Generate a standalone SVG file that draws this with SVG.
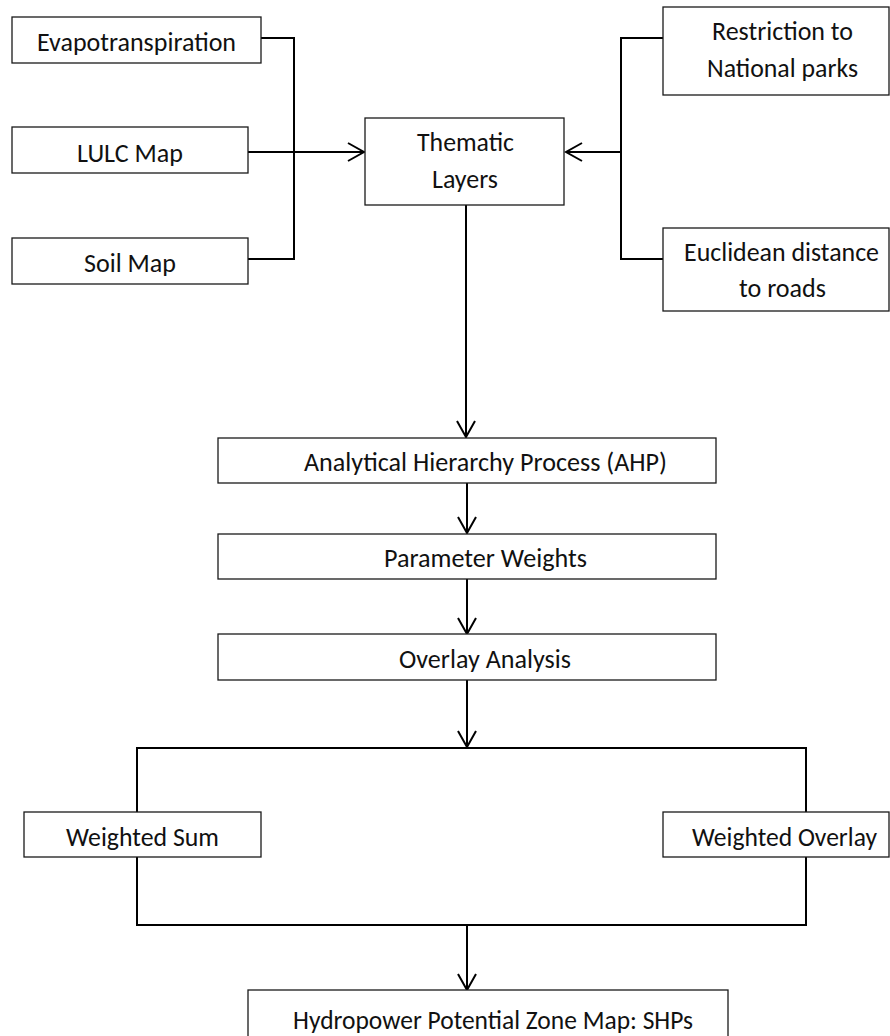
<svg xmlns="http://www.w3.org/2000/svg" width="890" height="1036" viewBox="0 0 890 1036">
<style>
.box{fill:#fff;stroke:#1a1a1a;stroke-width:1.3}
.t{font-family:Carlito,Lato,"Liberation Sans",sans-serif;font-size:26px;fill:#111;text-anchor:middle}
.c{fill:none;stroke:#000;stroke-width:2}
</style>
<defs>
<marker id="arr" viewBox="0 0 20 20" refX="18" refY="10" markerWidth="20" markerHeight="20" markerUnits="userSpaceOnUse" orient="auto">
<path d="M2,1 L18,10 L2,19" fill="none" stroke="#000" stroke-width="2"/>
</marker>
</defs>
<rect width="890" height="1036" fill="#fff"/>
<g id="connectors">
<polyline class="c" points="261,38 294,38 294,259 248,259"/>
<line class="c" x1="248" y1="152" x2="364" y2="152" marker-end="url(#arr)"/>
<polyline class="c" points="663,38 621,38 621,259 663,259"/>
<line class="c" x1="621" y1="152" x2="566" y2="152" marker-end="url(#arr)"/>
<line class="c" x1="466" y1="205" x2="466" y2="437" marker-end="url(#arr)"/>
<line class="c" x1="467" y1="483" x2="467" y2="533" marker-end="url(#arr)"/>
<line class="c" x1="467" y1="579" x2="467" y2="634" marker-end="url(#arr)"/>
<line class="c" x1="467" y1="680" x2="467" y2="747" marker-end="url(#arr)"/>
<polyline class="c" points="137,812 137,748 806,748 806,812"/>
<polyline class="c" points="137,857 137,925 806,925 806,857"/>
<line class="c" x1="467" y1="925" x2="467" y2="990" marker-end="url(#arr)"/>
</g>
<g id="evap"><rect class="box" x="12" y="17" width="249" height="46"/><text class="t" x="136.5" y="51" textLength="199" lengthAdjust="spacingAndGlyphs">Evapotranspiration</text></g>
<g id="lulc"><rect class="box" x="12" y="127" width="236" height="46"/><text class="t" x="130" y="162" textLength="106" lengthAdjust="spacingAndGlyphs">LULC Map</text></g>
<g id="soil"><rect class="box" x="12" y="238" width="236" height="46"/><text class="t" x="130" y="272" textLength="92" lengthAdjust="spacingAndGlyphs">Soil Map</text></g>
<g id="thematic"><rect class="box" x="365" y="118" width="199" height="87"/><text class="t" x="465.5" y="151" textLength="97" lengthAdjust="spacingAndGlyphs">Thematic</text><text class="t" x="465" y="188" textLength="66" lengthAdjust="spacingAndGlyphs">Layers</text></g>
<g id="restriction"><rect class="box" x="663" y="7" width="226" height="88"/><text class="t" x="782.5" y="40" textLength="141" lengthAdjust="spacingAndGlyphs">Restriction to</text><text class="t" x="782.5" y="77" textLength="151" lengthAdjust="spacingAndGlyphs">National parks</text></g>
<g id="euclid"><rect class="box" x="663" y="228" width="226" height="83"/><text class="t" x="781.5" y="261" textLength="195" lengthAdjust="spacingAndGlyphs">Euclidean distance</text><text class="t" x="782.5" y="297" textLength="87" lengthAdjust="spacingAndGlyphs">to roads</text></g>
<g id="ahp"><rect class="box" x="218" y="438" width="498" height="45"/><text class="t" x="485.5" y="471" textLength="363" lengthAdjust="spacingAndGlyphs">Analytical Hierarchy Process (AHP)</text></g>
<g id="weights"><rect class="box" x="218" y="534" width="498" height="45"/><text class="t" x="485.5" y="567" textLength="203" lengthAdjust="spacingAndGlyphs">Parameter Weights</text></g>
<g id="overlay"><rect class="box" x="218" y="634" width="498" height="46"/><text class="t" x="485" y="668" textLength="172" lengthAdjust="spacingAndGlyphs">Overlay Analysis</text></g>
<g id="wsum"><rect class="box" x="24" y="812" width="237" height="45"/><text class="t" x="142.5" y="846" textLength="153" lengthAdjust="spacingAndGlyphs">Weighted Sum</text></g>
<g id="woverlay"><rect class="box" x="663" y="812" width="226" height="45"/><text class="t" x="784.5" y="846" textLength="185" lengthAdjust="spacingAndGlyphs">Weighted Overlay</text></g>
<g id="hydro"><rect class="box" x="248" y="990" width="480" height="50"/><text class="t" x="493" y="1029" textLength="400" lengthAdjust="spacingAndGlyphs">Hydropower Potential Zone Map: SHPs</text></g>
</svg>
